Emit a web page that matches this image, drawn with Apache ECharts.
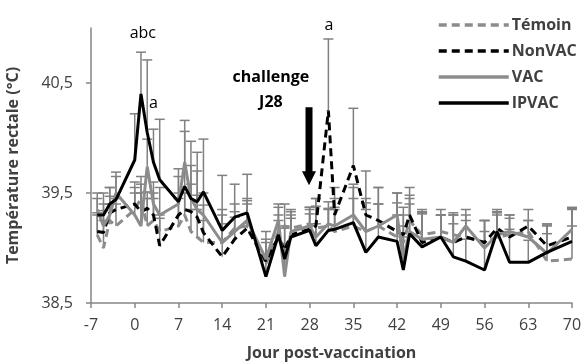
<!DOCTYPE html>
<html>
<head>
<meta charset="utf-8">
<script src="https://cdn.jsdelivr.net/npm/echarts@6/dist/echarts.min.js"></script>
<style>
  html, body { margin: 0; padding: 0; background: #fff; }
  #chart { width: 584px; height: 364px; }
</style>
</head>
<body>
<div id="chart"></div>
<script>
///////////////////////////////////////////////////
// Data
///////////////////////////////////////////////////
var days = [-6, -5, -4, -3, 0, 1, 2, 3, 4, 7, 8, 9, 10, 11, 14, 16, 18, 21, 23, 24, 25,
  28, 29, 31, 32, 35, 37, 39, 42, 43, 44, 46, 49, 51, 53, 56, 58, 60, 63, 66, 70];

var temoin = [39.12, 39.00, 39.25, 39.20, 39.35, 39.45, 39.20, 39.25, 39.15, 39.20, 39.30,
  39.15, 39.10, 39.05, 39.05, 39.18, 39.20, 38.85, 39.15, 39.20, 39.18, 39.22, 39.18,
  39.20, 39.15, 39.20, 39.15, 39.20, 39.10, 39.05, 39.25, 39.12, 39.15, 39.12, 39.10,
  39.05, 39.10, 39.12, 39.15, 38.88, 38.90];
var nonvac = [39.15, 39.14, 39.32, 39.35, 39.40, 39.33, 39.36, 39.30, 39.02, 39.30, 39.35,
  39.33, 39.28, 39.14, 38.92, 39.08, 39.18, 38.88, 39.10, 38.98, 39.12, 39.17, 39.20,
  40.25, 39.30, 39.75, 39.30, 39.25, 39.15, 39.12, 39.30, 39.05, 39.10, 39.05, 39.10,
  39.05, 39.18, 39.10, 39.20, 39.02, 39.10];
var vac = [39.35, 39.20, 39.30, 39.50, 39.30, 39.20, 39.74, 39.40, 39.30, 39.40, 39.78,
  39.45, 39.35, 39.30, 39.05, 39.15, 39.25, 38.90, 39.25, 38.74, 39.15, 39.20, 39.10,
  39.22, 39.20, 39.30, 39.15, 39.20, 39.30, 38.90, 39.15, 39.08, 39.10, 39.05, 39.20,
  39.00, 39.12, 39.15, 39.10, 38.95, 39.17];
var ipvac = [39.30, 39.30, 39.40, 39.44, 39.80, 40.40, 40.05, 39.78, 39.62, 39.42, 39.56,
  39.45, 39.42, 39.51, 39.16, 39.28, 39.32, 38.74, 39.12, 38.90, 39.10, 39.16, 39.02,
  39.16, 39.17, 39.23, 38.96, 39.10, 39.06, 38.80, 39.13, 39.01, 39.10, 38.92, 38.88,
  38.80, 39.15, 38.87, 38.87, 38.96, 39.06];

// upper error (standard deviation) of each point
var temoinErr = [0.20, 0.25, 0.15, 0.20, 0.15, 0.20, 0.25, 0.20, 0.15, 0.25, 0.20,
  0.20, 0.25, 0.20, 0.25, 0.15, 0.20, 0.20, 0.15, 0.20, 0.15, 0.15, 0.20,
  0.15, 0.20, 0.25, 0.20, 0.20, 0.20, 0.25, 0.15, 0.20, 0.15, 0.20, 0.15,
  0.20, 0.20, 0.15, 0.10, 0.25, 0.30];
var nonvacErr = [0.15, 0.20, 0.15, 0.10, 0.20, 0.25, 0.15, 0.20, 0.25, 0.20, 0.15,
  0.25, 0.20, 0.25, 0.30, 0.20, 0.25, 0.20, 0.15, 0.20, 0.15, 0.20, 0.25,
  0.65, 0.25, 0.52, 0.40, 0.30, 0.35, 0.25, 0.25, 0.30, 0.20, 0.25, 0.20,
  0.20, 0.15, 0.20, 0.15, 0.20, 0.25];
var vacErr = [0.15, 0.20, 0.25, 0.15, 0.25, 0.30, 0.25, 0.20, 0.25, 0.25, 0.38,
  0.30, 0.35, 0.20, 0.30, 0.25, 0.20, 0.25, 0.15, 0.30, 0.20, 0.15, 0.35,
  0.20, 0.25, 0.25, 0.30, 0.35, 0.20, 0.30, 0.30, 0.25, 0.20, 0.25, 0.15,
  0.25, 0.20, 0.15, 0.15, 0.25, 0.20];
var ipvacErr = [0.15, 0.20, 0.15, 0.25, 0.42, 0.38, 0.66, 0.30, 0.55, 0.30, 0.50,
  0.52, 0.45, 0.48, 0.50, 0.30, 0.35, 0.20, 0.25, 0.30, 0.20, 0.15, 0.20,
  0.20, 0.20, 0.35, 0.45, 0.30, 0.35, 0.30, 0.35, 0.30, 0.25, 0.30, 0.20,
  0.35, 0.20, 0.30, 0.20, 0.25, 0.30];

var seriesNames = ['Témoin', 'NonVAC', 'VAC', 'IPVAC'];
var xTicks = [-7, 0, 7, 14, 21, 28, 35, 42, 49, 56, 63, 70];
var yTicks = [38.5, 39.5, 40.5];

///////////////////////////////////////////////////
// Build the chart
///////////////////////////////////////////////////
var FONT = '"Open Sans", "Liberation Sans", sans-serif';
var AXIS_GREY = '#868686';
var TEXT_GREY = '#404040';

function pairs(vals) {
  return days.map(function (d, i) { return [d, vals[i]]; });
}
function errPairs(vals, errs) {
  return days.map(function (d, i) { return [d, vals[i], errs[i]]; });
}

// vertical error bar (upper half only) with a cap
function renderErr(params, api) {
  var base = api.coord([api.value(0), api.value(1)]);
  var top = api.coord([api.value(0), api.value(1) + api.value(2)]);
  var half = 5;
  var style = { stroke: '#808080', lineWidth: 1.5 };
  return {
    type: 'group',
    children: [
      { type: 'line', shape: { x1: base[0], y1: base[1], x2: top[0], y2: top[1] }, style: style },
      { type: 'line', shape: { x1: top[0] - half, y1: top[1], x2: top[0] + half, y2: top[1] }, style: style }
    ]
  };
}

var lineDefs = [
  { name: seriesNames[0], vals: temoin, errs: temoinErr, color: '#8c8c8c', type: [8, 5] },
  { name: seriesNames[1], vals: nonvac, errs: nonvacErr, color: '#000000', type: [8, 5] },
  { name: seriesNames[2], vals: vac, errs: vacErr, color: '#8c8c8c', type: 'solid' },
  { name: seriesNames[3], vals: ipvac, errs: ipvacErr, color: '#000000', type: 'solid' }
];

var series = [];
lineDefs.forEach(function (s) {
  series.push({
    type: 'custom',
    name: s.name + ' err',
    renderItem: renderErr,
    data: errPairs(s.vals, s.errs),
    encode: { x: 0, y: 1 },
    z: 1,
    silent: true
  });
});
lineDefs.forEach(function (s, i) {
  series.push({
    type: 'line',
    name: s.name,
    data: pairs(s.vals),
    symbol: 'none',
    showSymbol: false,
    z: 3 + i,
    color: s.color,
    lineStyle: { color: s.color, width: 3, type: s.type }
  });
});

var option = {
  animation: false,
  backgroundColor: '#ffffff',
  grid: { left: 91, right: 12, top: 28, bottom: 61, outerBoundsMode: 'none' },
  legend: {
    data: seriesNames,
    orient: 'vertical',
    left: 432,
    top: 12,
    itemWidth: 70,
    itemHeight: 14,
    itemGap: 10,
    itemStyle: { opacity: 0 },
    lineStyle: { width: 3.5 },
    textStyle: { fontFamily: FONT, fontSize: 16, fontWeight: 'bold', color: TEXT_GREY, padding: [0, 0, 0, -2] }
  },
  xAxis: {
    type: 'value',
    min: -7,
    max: 70,
    interval: 7,
    name: 'Jour post-vaccination',
    nameLocation: 'middle',
    nameGap: 42,
    nameTextStyle: { fontFamily: FONT, fontSize: 16, fontWeight: 'bold', color: TEXT_GREY },
    axisLine: { show: true, onZero: false, lineStyle: { color: AXIS_GREY, width: 1.5 } },
    axisTick: { show: true, length: 5, lineStyle: { color: AXIS_GREY, width: 1.5 }, customValues: xTicks },
    axisLabel: { fontFamily: FONT, fontSize: 16, color: TEXT_GREY, margin: 14, customValues: xTicks },
    splitLine: { show: false }
  },
  yAxis: {
    type: 'value',
    min: 38.5,
    max: 41,
    name: 'Température rectale (°C)',
    nameLocation: 'middle',
    nameGap: 70,
    nameTextStyle: { fontFamily: FONT, fontSize: 16, fontWeight: 'bold', color: TEXT_GREY },
    axisLine: { show: true, onZero: false, lineStyle: { color: AXIS_GREY, width: 1.5 } },
    axisTick: { show: true, length: 5, lineStyle: { color: AXIS_GREY, width: 1.5 }, customValues: yTicks },
    axisLabel: {
      fontFamily: FONT, fontSize: 16, color: TEXT_GREY, margin: 18, customValues: yTicks,
      formatter: function (v) { return v.toFixed(1).replace('.', ','); }
    },
    splitLine: { show: false }
  },
  series: series
};

var chart = echarts.init(document.getElementById('chart'), null, { renderer: 'canvas' });
chart.setOption(option);

// annotations placed on data coordinates
function px(d, v) { return chart.convertToPixel({ gridIndex: 0 }, [d, v]); }
var labelStyle = { fontFamily: FONT, fontSize: 16, fill: '#000' };
var boldStyle = { fontFamily: FONT, fontSize: 16, fontWeight: 'bold', fill: '#000' };
var pAbc = px(1.3, 40.95);
var pA1 = px(3.0, 40.31);
var pA2 = px(31.1, 41.02);
var pCh = px(21.8, 40.55);
var pJ = px(21.8, 40.32);
var arTop = px(27.9, 40.28);
var arBot = px(27.9, 39.57);

function txt(p, text, st) {
  return { type: 'text', x: p[0], y: p[1], style: Object.assign({ text: text, align: 'center', verticalAlign: 'middle' }, st) };
}

chart.setOption({
  graphic: [
    txt(pAbc, 'abc', labelStyle),
    txt(pA1, 'a', labelStyle),
    txt(pA2, 'a', labelStyle),
    txt(pCh, 'challenge', boldStyle),
    txt(pJ, 'J28', boldStyle),
    {
      type: 'polygon',
      shape: {
        points: [
          [arTop[0] - 3.5, arTop[1]], [arTop[0] + 3.5, arTop[1]],
          [arTop[0] + 3.5, arBot[1] - 14], [arTop[0] + 7, arBot[1] - 14],
          [arTop[0], arBot[1]],
          [arTop[0] - 7, arBot[1] - 14], [arTop[0] - 3.5, arBot[1] - 14]
        ]
      },
      style: { fill: '#000' }
    }
  ]
});
</script>
</body>
</html>
